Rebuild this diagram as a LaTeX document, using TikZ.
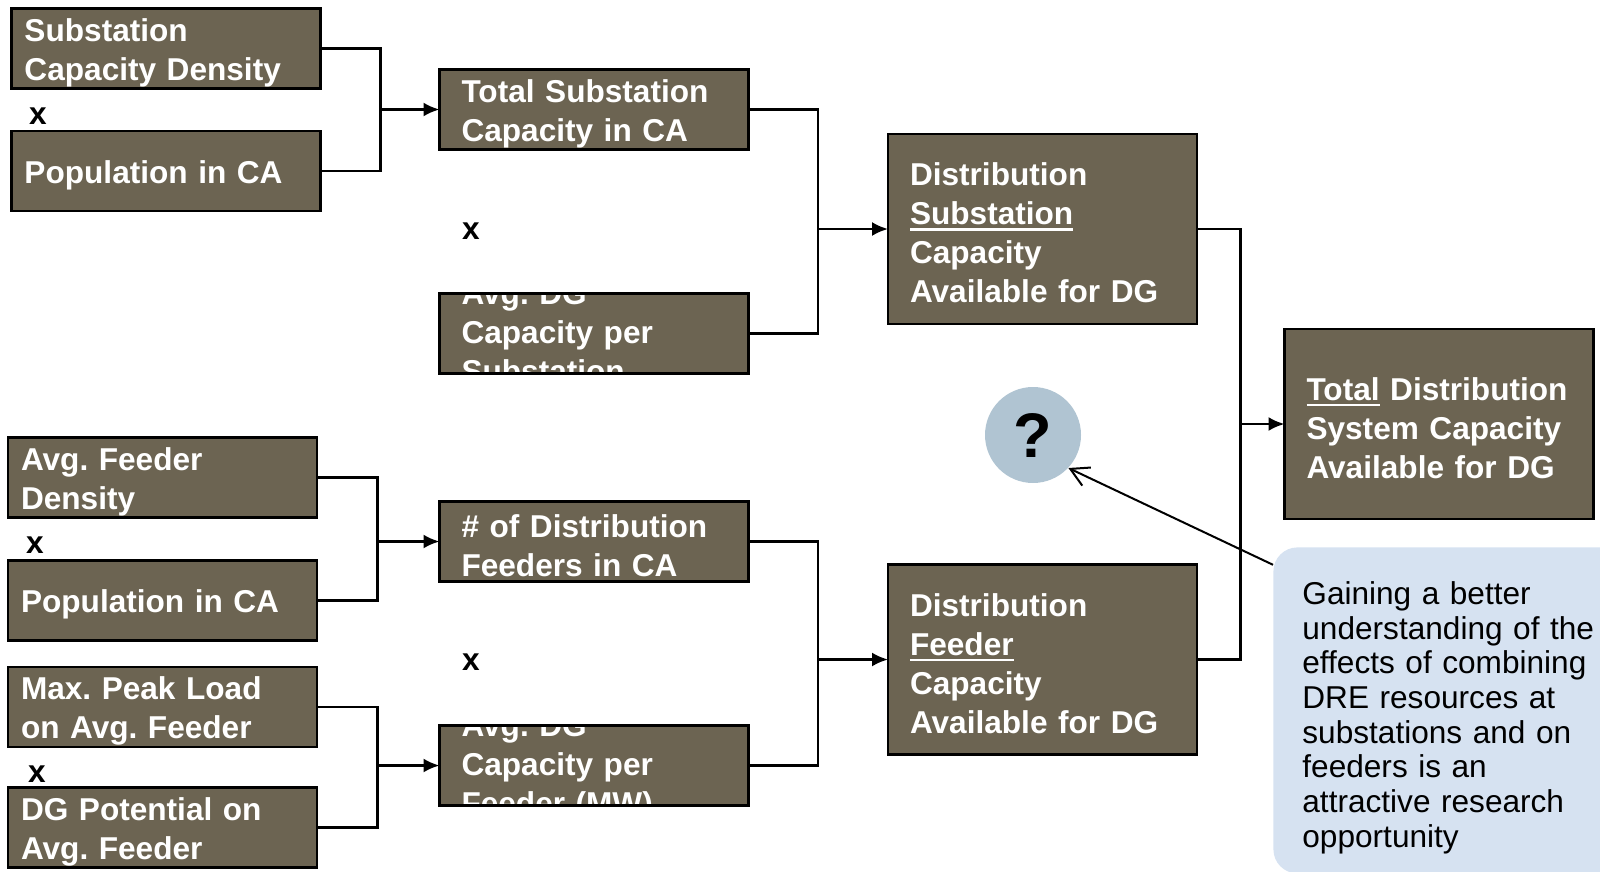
\documentclass[tikz,border=0pt]{standalone}
\usepackage{fontspec}
\setmainfont{Liberation Sans}
\usetikzlibrary{arrows.meta}
\definecolor{boxfill}{RGB}{108,100,82}
\definecolor{notefill}{RGB}{214,226,241}
\definecolor{queryfill}{RGB}{176,196,210}
\newsavebox{\wordbox}
\newcommand{\markword}[1]{\leavevmode\sbox{\wordbox}{#1}\rlap{\rule[-3pt]{\wd\wordbox}{1.3pt}}\usebox{\wordbox}}
\tikzset{
  cell/.style={draw=black, line width=1.3pt, fill=boxfill, text=white, outer sep=0pt,
    font=\bfseries\fontsize{15.8pt}{19.5pt}\selectfont, align=left,
    inner xsep=11pt, inner ysep=0pt, text width=132.5pt, minimum height=40pt,
    execute at begin node={\rule{0pt}{15.5pt}}},
  inset/.style={inner xsep=6.5pt, text width=141.5pt},
  tall/.style={minimum height=95pt},
  spill/.style={text height=5.5pt, text depth=34.5pt},
  times/.style={font=\bfseries\fontsize{15.8pt}{19.5pt}\selectfont, anchor=base, inner sep=0pt},
  link/.style={line width=1.2pt},
  feed/.style={link, -{Latex[length=8pt,width=7pt]}},
  pointer/.style={line width=1pt, -{Straight Barb[length=9pt,width=10pt]}},
  note/.style={anchor=north west, fill=notefill, rounded corners=12pt, align=left,
    text width=171pt, inner xsep=14.5pt, inner ysep=0pt,
    text height=28.5pt, text depth=134.5pt, font=\fontsize{15.8pt}{17.35pt}\selectfont}
}
\begin{document}
\frenchspacing
\begin{tikzpicture}[x=0.5pt,y=-0.5pt]
\clip (0,0) rectangle (1600,872);
% substation branch
\node[cell, inset] (subdens) at (166,48.5) {Substation\\Capacity Density};
\node[cell, inset] (popsub) at (166,171) {Population in CA};
\node[cell] (totsub) at (594,109.5) {Total Substation\\Capacity in CA};
\node[cell, spill] (avgdgsub) at (594,333.5) {Avg. DG\\Capacity per\\Substation};
\node[cell, tall] (distsub) at (1042.5,229) {Distribution\\\markword{Substation}\\Capacity\\Available for DG};
% final result
\node[cell, tall] (totdist) at (1439,424) {\markword{Total} Distribution\\System Capacity\\Available for DG};
% feeder branch
\node[cell, inset] (feeddens) at (162.5,477.5) {Avg. Feeder\\Density};
\node[cell, inset] (popfeed) at (162.5,600.5) {Population in CA};
\node[cell] (numfeed) at (594,541.5) {\# of Distribution\\Feeders in CA};
\node[cell, inset] (peakload) at (162.5,707) {Max. Peak Load\\on Avg. Feeder};
\node[cell, inset] (dgpot) at (162.5,827.5) {DG Potential on\\Avg. Feeder};
\node[cell, spill] (avgdgfeed) at (594,765.5) {Avg. DG\\Capacity per\\Feeder (MW)};
\node[cell, tall] (distfeed) at (1042.5,659.5) {Distribution\\\markword{Feeder}\\Capacity\\Available for DG};
% borders again over the text that runs out
\foreach \n in {avgdgsub,avgdgfeed} {
  \draw[line width=1.3pt] (\n.south west) rectangle (\n.north east);
}
% the multiplication signs
\foreach \xx/\yy [count=\i] in {38/125, 471/239, 35/553, 471/670, 37/782} {
  \node[times] (times\i) at (\xx,\yy) {x};
}
% junctions
\coordinate (subjoin) at ([xshift=-29.5pt]totsub.west);
\coordinate (capjoin) at ([xshift=-35pt]distsub.west);
\coordinate (totjoin) at ([xshift=-22pt]totdist.west);
\coordinate (feedjoin) at ([xshift=-31pt]numfeed.west);
\coordinate (dgjoin) at ([xshift=-31pt]avgdgfeed.west);
\coordinate (fcapjoin) at ([xshift=-35pt]distfeed.west);
% connectors
\draw[link] (subdens.east) -| (subjoin) |- (popsub.east);
\draw[feed] (subjoin) -- (totsub.west);
\draw[link] (totsub.east) -| (capjoin) |- (avgdgsub.east);
\draw[feed] (capjoin) -- (distsub.west);
\draw[link] (feeddens.east) -| (feedjoin) |- (popfeed.east);
\draw[feed] (feedjoin) -- (numfeed.west);
\draw[link] (peakload.east) -| (dgjoin) |- (dgpot.east);
\draw[feed] (dgjoin) -- (avgdgfeed.west);
\draw[link] (numfeed.east) -| (fcapjoin) |- (avgdgfeed.east);
\draw[feed] (fcapjoin) -- (distfeed.west);
\draw[link] (distsub.east) -| (totjoin) |- (distfeed.east);
\draw[feed] (totjoin) -- (totdist.west);
% open question and remark
\node[circle, fill=queryfill, minimum size=48pt, inner sep=0pt,
  font=\bfseries\fontsize{31.5pt}{36pt}\selectfont] (query) at (1033,435) {?};
\node[note] (note) at (1273,547) {Gaining a better\\understanding of the\\effects of combining\\DRE resources at\\substations and on\\feeders is an\\attractive research\\opportunity};
\draw[pointer] (note.144) -- (query.-43);
\end{tikzpicture}
\end{document}
